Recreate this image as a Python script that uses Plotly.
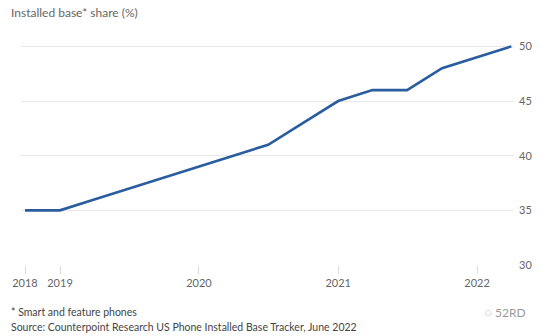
import plotly.graph_objects as go

# Quarterly US installed-base share of the phone market (%)
quarters = ["2018-10-01", "2019-01-01", "2019-04-01", "2019-07-01", "2019-10-01",
            "2020-01-01", "2020-04-01", "2020-07-01", "2020-10-01",
            "2021-01-01", "2021-04-01", "2021-07-01", "2021-10-01",
            "2022-01-01", "2022-04-01"]
share = [35, 35, 36, 37, 38, 39, 40, 41, 43, 45, 46, 46, 48, 49, 50]

x_tick_vals = ["2018-10-01", "2019-01-01", "2020-01-01", "2021-01-01", "2022-01-01"]
x_tick_text = ["2018", "2019", "2020", "2021", "2022"]
y_tick_vals = [30, 35, 40, 45, 50]

FONT = "Lato"
GRID = "#e8e8e8"

fig = go.Figure(
    go.Scatter(
        x=quarters, y=share, mode="lines",
        line=dict(color="#2a5d9f", width=2.6),
        hoverinfo="skip",
    )
)

W, H = 554, 336
L, R, T, B = 17, 40, 41.6, 71
plot_w = W - L - R
plot_h = H - T - B


def px(x):
    return (x - L) / plot_w


def py(y):
    return (H - B - y) / plot_h


fig.update_layout(
    width=W, height=H,
    margin=dict(l=L, r=R, t=T, b=B),
    paper_bgcolor="white", plot_bgcolor="white",
    showlegend=False,
    font=dict(family=FONT, color="#666666", size=11),
    xaxis=dict(
        type="date",
        range=["2018-09-20 12:00", "2022-04-08"],
        tickvals=x_tick_vals, ticktext=x_tick_text,
        ticks="outside", ticklen=8, tickcolor="#dcdcdc", tickwidth=1,
        showgrid=False, showline=False, zeroline=False,
        tickfont=dict(size=11, color="#666666"),
    ),
    yaxis=dict(
        range=[30, 50.4], side="right",
        tickvals=y_tick_vals,
        showgrid=True, gridcolor=GRID, gridwidth=1,
        showline=False, zeroline=False, ticks="",
        ticklabelstandoff=4,
        tickfont=dict(size=11, color="#666666"),
    ),
    annotations=[
        dict(text="Installed base* share (%)", x=px(5), y=py(11.7),
             xref="paper", yref="paper", xanchor="left", yanchor="middle",
             showarrow=False, font=dict(size=12, color="#666666")),
        dict(text="* Smart and feature phones", x=px(5), y=py(311.7),
             xref="paper", yref="paper", xanchor="left", yanchor="middle",
             showarrow=False, font=dict(size=10.5, color="#444444")),
        dict(text="Source: Counterpoint Research US Phone Installed Base Tracker, June 2022",
             x=px(5), y=py(326.7),
             xref="paper", yref="paper", xanchor="left", yanchor="middle",
             showarrow=False, font=dict(size=10.5, color="#444444")),
        dict(text="◌ 52RD", x=px(482), y=py(313),
             xref="paper", yref="paper", xanchor="left", yanchor="middle",
             showarrow=False, font=dict(size=12, color="#9a9a9a")),
    ],
)

fig.write_html("out.html")
